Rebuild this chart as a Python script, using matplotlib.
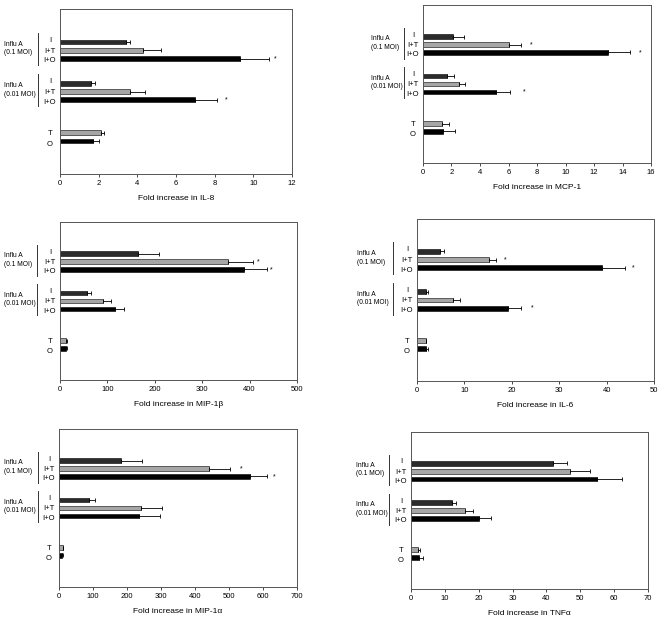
import numpy as np
import matplotlib.pyplot as plt
import matplotlib.transforms as mtransforms

plt.rcParams['font.family'] = ['Liberation Sans', 'DejaVu Sans']

# rows from top to bottom: 0.1 MOI group, 0.01 MOI group, controls
bar_labels = ['I', 'I+T', 'I+O', 'I', 'I+T', 'I+O', 'T', 'O']
group_labels = ['Influ A\n(0.1 MOI)', 'Influ A\n(0.01 MOI)']

il8 = [3.4, 4.3, 9.3, 1.6, 3.6, 7.0, 2.1, 1.7]
il8_err = [0.2, 0.9, 1.5, 0.22, 0.8, 1.1, 0.2, 0.3]
il8_star = [(2, 11.15), (5, 8.6)]

mcp1 = [2.1, 6.0, 13.0, 1.7, 2.5, 5.1, 1.3, 1.4]
mcp1_err = [0.75, 0.9, 1.5, 0.5, 0.42, 1.0, 0.5, 0.85]
mcp1_star = [(1, 7.6), (2, 15.25), (5, 7.1)]

mip1b = [164, 354, 389, 56, 90, 115, 12, 12]
mip1b_err = [44, 54, 48, 9, 18, 21, 2, 2]
mip1b_star = [(1, 418), (2, 446)]

il6 = [4.8, 15.1, 39.1, 1.8, 7.6, 19.1, 1.8, 2.0]
il6_err = [0.8, 1.6, 4.8, 0.5, 1.4, 2.9, 0.2, 0.4]
il6_star = [(1, 18.7), (2, 45.7), (5, 24.3)]

mip1a = [182, 441, 563, 88, 241, 234, 12, 10]
mip1a_err = [63, 63, 50, 19, 62, 62, 1, 1]
mip1a_star = [(1, 535), (2, 633)]

tnfa = [42, 47, 55, 12, 16, 20.1, 2.0, 2.5]
tnfa_err = [4.1, 5.8, 7.4, 1.3, 2.3, 3.5, 0.8, 1.0]
tnfa_star = []

# layout
ypos = [4, 5, 6, 9, 10, 11, 15, 16]
label_y = [3.8, 5.1, 6.3, 8.8, 10.1, 11.3, 15.1, 16.4]
group_mid = [5, 10]
colors = ['#2b2b2b', '#a6a6a6', '#000000', '#2b2b2b', '#a6a6a6', '#000000', '#a6a6a6', '#000000']

W, H = 662, 617
fig = plt.figure(figsize=(W / 100, H / 100), dpi=100)

panels = [
    # left, right, top, bottom (px), xmax, step, xlabel, group text / bracket offsets (px), data
    (60, 292, 9, 174, 12, 2, 'Fold increase in IL-8', -56, -22, il8, il8_err, il8_star),
    (423, 651, 5, 163, 16, 2, 'Fold increase in MCP-1', -52, -19, mcp1, mcp1_err, mcp1_star),
    (60, 297, 222, 380, 500, 100, 'Fold increase in MIP-1\u03b2', -56, -23, mip1b, mip1b_err, mip1b_star),
    (417, 654, 219, 381, 50, 10, 'Fold increase in IL-6', -60, -24, il6, il6_err, il6_star),
    (59, 297, 429, 587, 700, 100, 'Fold increase in MIP-1\u03b1', -55, -21, mip1a, mip1a_err, mip1a_star),
    (411, 648, 432, 589, 70, 10, 'Fold increase in TNF\u03b1', -55, -22, tnfa, tnfa_err, tnfa_star),
]

for l, r, t, b, xmax, step, xlab, goff, boff, vals, errs, stars in panels:
    ax = fig.add_axes([l / W, 1 - b / H, (r - l) / W, (b - t) / H])
    ax.barh(ypos, vals, height=0.6, color=colors, edgecolor='black', linewidth=0.4)
    ax.errorbar(vals, ypos, xerr=[np.zeros(len(vals)), errs], fmt='none',
                ecolor='black', elinewidth=0.6, capsize=1.6, capthick=0.6)
    for i, x in stars:
        ax.text(x, ypos[i], '*', fontsize=5, ha='center', va='center')

    ax.set_xlim(0, xmax)
    ax.set_ylim(20, 0)
    ax.set_xticks(np.arange(0, xmax + step / 2, step))
    ax.set_yticks([])
    ax.tick_params(axis='x', direction='out', length=2.5, width=0.5, labelsize=5.5, pad=2)
    for s in ax.spines.values():
        s.set_linewidth(0.7)
        s.set_color('#555555')
    ax.set_xlabel(xlab, fontsize=6, labelpad=5.5)

    yt = ax.get_yaxis_transform()
    for lab, y in zip(bar_labels, label_y):
        ax.annotate(lab, xy=(0, y), xycoords=yt, xytext=(-10, 0), textcoords='offset pixels',
                    ha='center', va='center', fontsize=5.5, annotation_clip=False)
    brk = yt + mtransforms.ScaledTranslation(boff / 100, 0, fig.dpi_scale_trans)
    for g, m in zip(group_labels, group_mid):
        ax.plot([0, 0], [m - 2.1, m + 1.8], transform=brk, color='#333333', lw=0.7, clip_on=False)
        ax.annotate(g, xy=(0, m - 0.2), xycoords=yt, xytext=(goff, 0), textcoords='offset pixels',
                    ha='left', va='center', fontsize=4.8,
                    linespacing=1.3, annotation_clip=False)

fig.savefig('out.png', dpi=100)
